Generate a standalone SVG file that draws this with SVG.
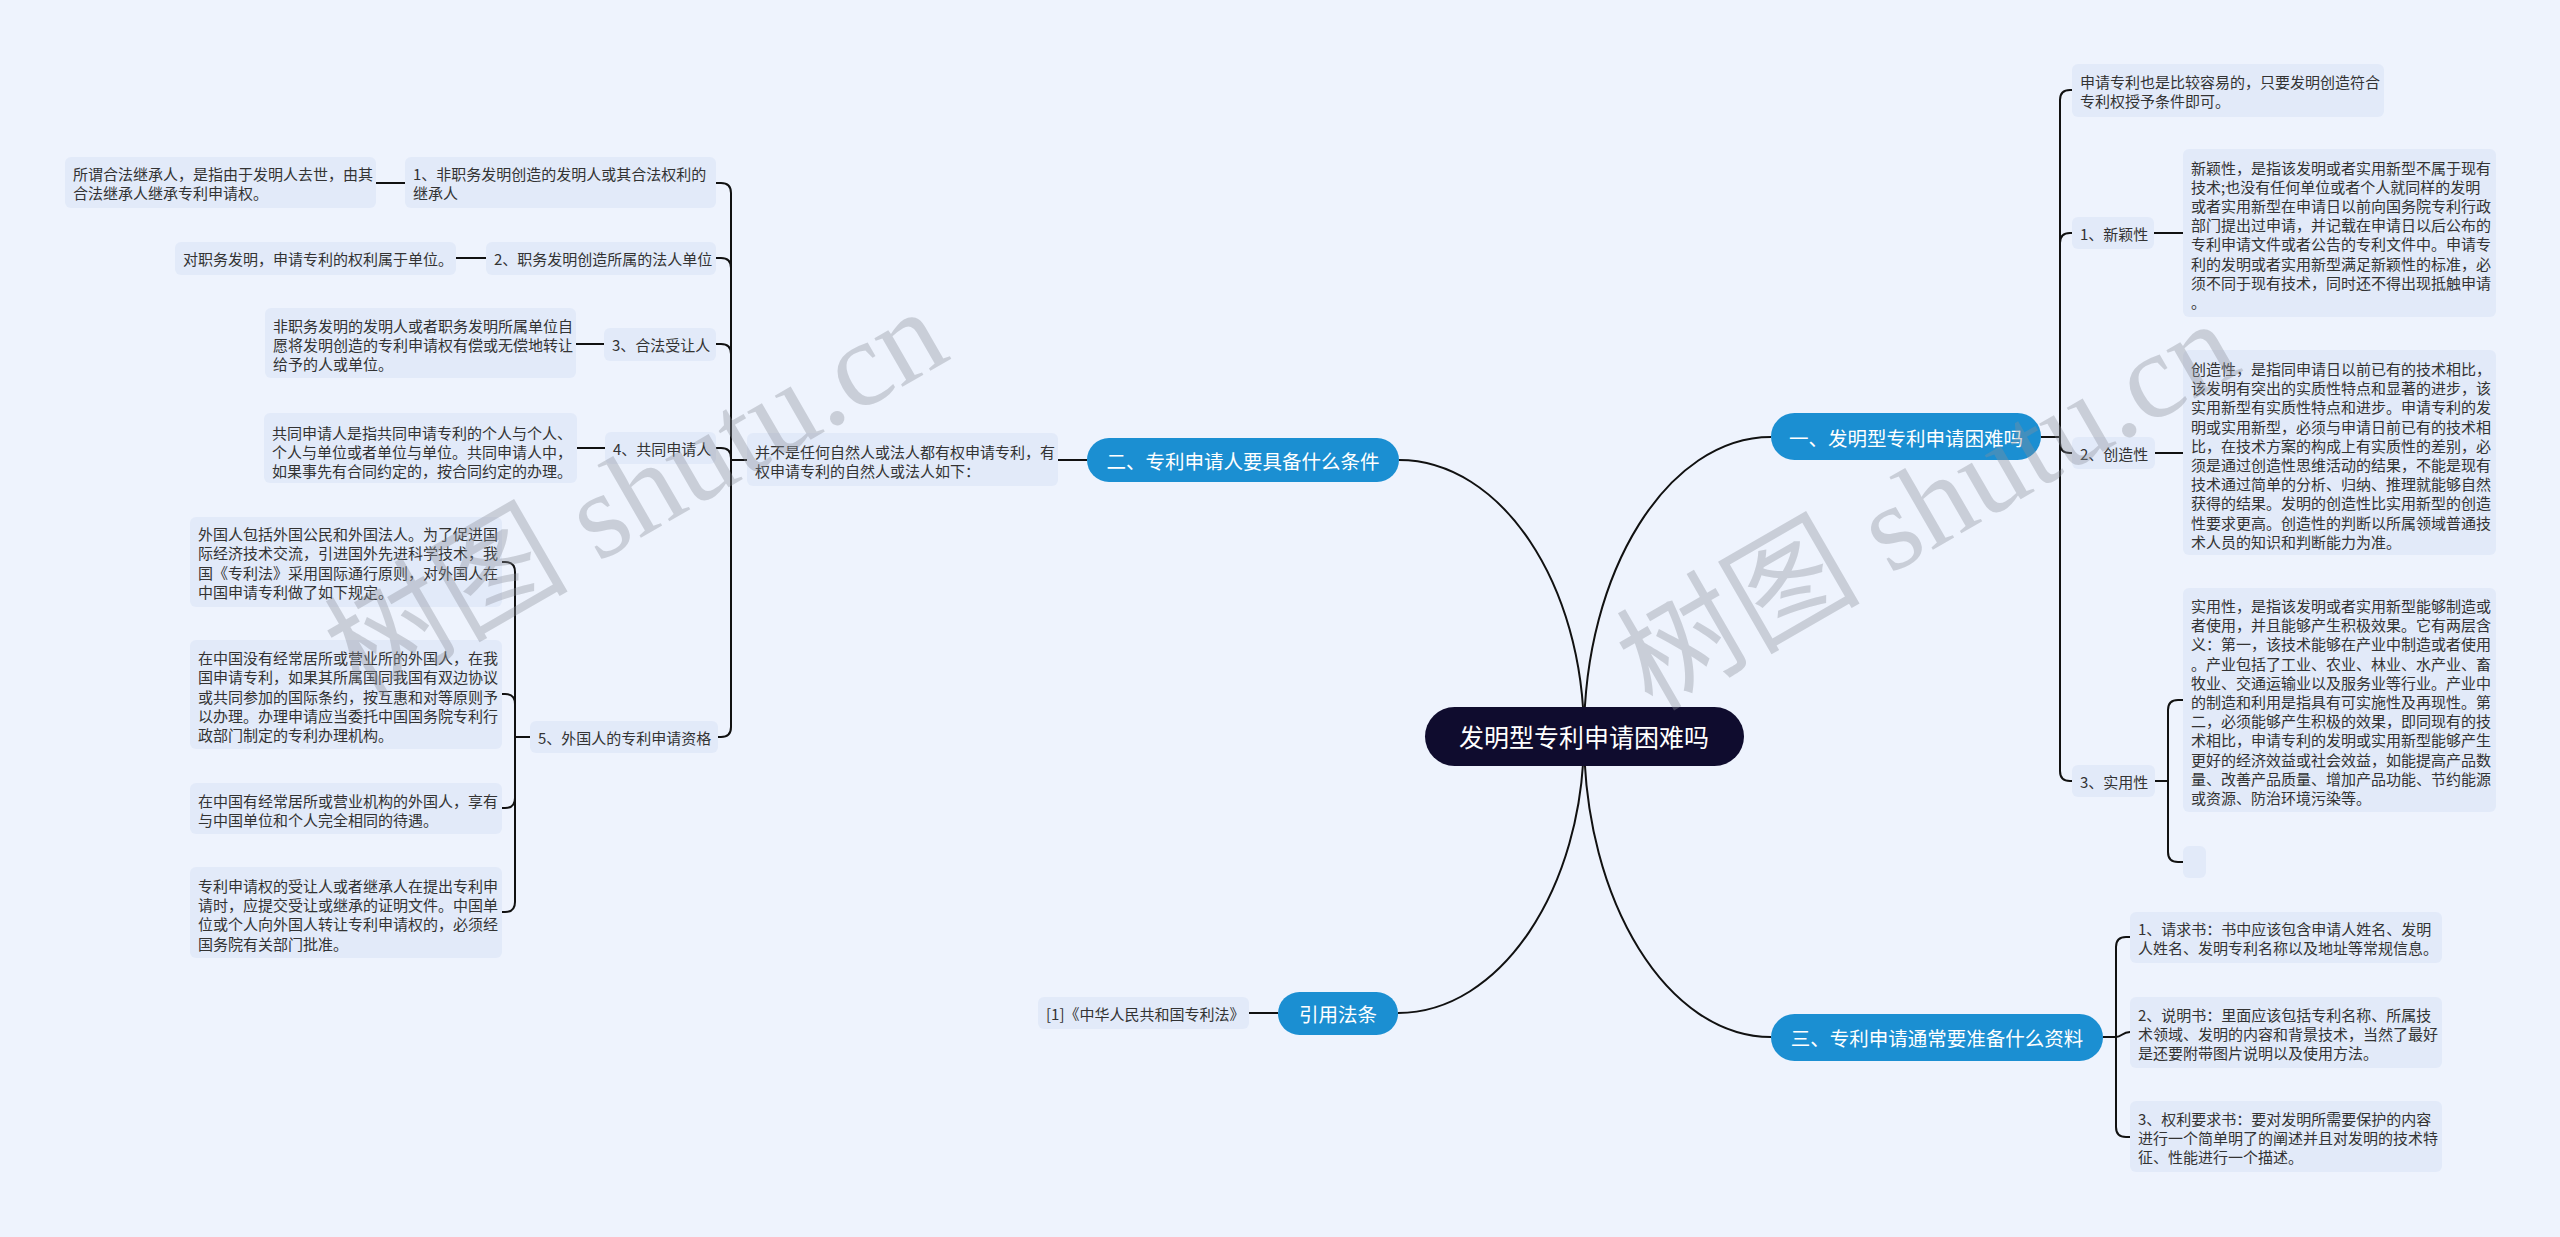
<svg xmlns="http://www.w3.org/2000/svg" width="2560" height="1237" viewBox="0 0 2560 1237">
<style>
.box{fill:#e2eaf9}
.t{font-family:"Noto Sans CJK SC","Noto Sans",sans-serif;font-size:15px;fill:#333;dominant-baseline:central}
.blue{fill:#1b8fd2}
.bt{font-family:"Noto Sans CJK SC","Noto Sans",sans-serif;font-size:19.5px;fill:#fff;dominant-baseline:central;text-anchor:middle}
.ct{font-family:"Noto Sans CJK SC","Noto Sans",sans-serif;font-size:25px;fill:#fff;dominant-baseline:central;text-anchor:middle}
.edge{fill:none;stroke:#111;stroke-width:2}
.wm{font-family:"Liberation Serif","Noto Sans CJK SC",serif;font-size:122px;fill:#8a8f99;opacity:0.36}
</style>
<rect width="2560" height="1237" fill="#eef3fd"/>
<g id="connectors">
<path class="edge" d="M1584,736 C1584,571 1668,437 1771,437"/>
<path class="edge" d="M1584,736 C1584,584 1501,460 1399,460"/>
<path class="edge" d="M1584,736 C1584,902 1668,1037 1771,1037"/>
<path class="edge" d="M1584,736 C1584,889 1500,1013 1398,1013"/>
<path class="edge" d="M2041,437 H2060 V100 Q2060,90 2070,90 H2072"/>
<path class="edge" d="M2041,437 H2060 V243 Q2060,233 2070,233 H2072"/>
<path class="edge" d="M2041,437 H2060 V443 Q2060,453 2070,453 H2072"/>
<path class="edge" d="M2041,437 H2060 V771 Q2060,781 2070,781 H2072"/>
<path class="edge" d="M2154,233 H2183"/>
<path class="edge" d="M2155,453 H2183"/>
<path class="edge" d="M2155,781 H2168 V710 Q2168,700 2178,700 H2183"/>
<path class="edge" d="M2155,781 H2168 V852 Q2168,862 2178,862 H2183"/>
<path class="edge" d="M2103,1037 H2116 V947 Q2116,937 2126,937 H2130"/>
<path class="edge" d="M2103,1037 H2116 C2122,1037 2122,1032 2130,1032"/>
<path class="edge" d="M2103,1037 H2116 V1127 Q2116,1137 2126,1137 H2130"/>
<path class="edge" d="M1087,460 H1058"/>
<path class="edge" d="M747,460 H731 V193 Q731,183 721,183 H716"/>
<path class="edge" d="M747,460 H731 V268 Q731,258 721,258 H716"/>
<path class="edge" d="M747,460 H731 V354 Q731,344 721,344 H716"/>
<path class="edge" d="M747,460 H731 V458 Q731,448 721,448 H716"/>
<path class="edge" d="M747,460 H731 V727 Q731,737 721,737 H718"/>
<path class="edge" d="M405,183 H376"/>
<path class="edge" d="M486,258 H456"/>
<path class="edge" d="M604,344 H576"/>
<path class="edge" d="M605,448 H577"/>
<path class="edge" d="M530,737 H515 V572 Q515,562 505,562 H502"/>
<path class="edge" d="M530,737 H515 V704 Q515,694 505,694 H502"/>
<path class="edge" d="M530,737 H515 V798 Q515,808 505,808 H502"/>
<path class="edge" d="M530,737 H515 V902 Q515,912 505,912 H502"/>
<path class="edge" d="M1278,1013 H1249"/>
</g>
<g id="center">
<rect x="1425" y="707" width="319" height="59" rx="29.5" fill="#0f0c2e"/>
<text class="ct" x="1584" y="736">发明型专利申请困难吗</text>
</g>
<g id="b1">
<rect class="blue" x="1771" y="413" width="270" height="47" rx="23.5"/>
<text class="bt" x="1906" y="437">一、发明型专利申请困难吗</text>
</g>
<g id="b1-0">
<rect class="box" x="2072" y="64" width="312" height="53" rx="6"/>
<text class="t" x="2080"><tspan x="2080" y="81">申请专利也是比较容易的，只要发明创造符合</tspan><tspan x="2080" y="100">专利权授予条件即可。</tspan></text>
</g>
<g id="b1-1">
<rect class="box" x="2072" y="217" width="82" height="32" rx="6"/>
<text class="t" x="2080" y="233">1、新颖性</text>
</g>
<g id="b1-1-0">
<rect class="box" x="2183" y="149" width="313" height="168" rx="6"/>
<text class="t"><tspan x="2191" y="167">新颖性，是指该发明或者实用新型不属于现有</tspan><tspan x="2191" y="186">技术;也没有任何单位或者个人就同样的发明</tspan><tspan x="2191" y="205">或者实用新型在申请日以前向国务院专利行政</tspan><tspan x="2191" y="224">部门提出过申请，并记载在申请日以后公布的</tspan><tspan x="2191" y="243">专利申请文件或者公告的专利文件中。申请专</tspan><tspan x="2191" y="263">利的发明或者实用新型满足新颖性的标准，必</tspan><tspan x="2191" y="282">须不同于现有技术，同时还不得出现抵触申请</tspan><tspan x="2191" y="301">。</tspan></text>
</g>
<g id="b1-2">
<rect class="box" x="2072" y="437" width="83" height="32" rx="6"/>
<text class="t" x="2080" y="453">2、创造性</text>
</g>
<g id="b1-2-0">
<rect class="box" x="2183" y="350" width="313" height="205" rx="6"/>
<text class="t"><tspan x="2191" y="368">创造性，是指同申请日以前已有的技术相比，</tspan><tspan x="2191" y="387">该发明有突出的实质性特点和显著的进步，该</tspan><tspan x="2191" y="406">实用新型有实质性特点和进步。申请专利的发</tspan><tspan x="2191" y="426">明或实用新型，必须与申请日前已有的技术相</tspan><tspan x="2191" y="445">比，在技术方案的构成上有实质性的差别，必</tspan><tspan x="2191" y="464">须是通过创造性思维活动的结果，不能是现有</tspan><tspan x="2191" y="483">技术通过简单的分析、归纳、推理就能够自然</tspan><tspan x="2191" y="502">获得的结果。发明的创造性比实用新型的创造</tspan><tspan x="2191" y="522">性要求更高。创造性的判断以所属领域普通技</tspan><tspan x="2191" y="541">术人员的知识和判断能力为准。</tspan></text>
</g>
<g id="b1-3">
<rect class="box" x="2072" y="765" width="83" height="32" rx="6"/>
<text class="t" x="2080" y="781">3、实用性</text>
</g>
<g id="b1-3-0">
<rect class="box" x="2183" y="588" width="313" height="224" rx="6"/>
<text class="t"><tspan x="2191" y="605">实用性，是指该发明或者实用新型能够制造或</tspan><tspan x="2191" y="624">者使用，并且能够产生积极效果。它有两层含</tspan><tspan x="2191" y="643">义：第一，该技术能够在产业中制造或者使用</tspan><tspan x="2191" y="663">。产业包括了工业、农业、林业、水产业、畜</tspan><tspan x="2191" y="682">牧业、交通运输业以及服务业等行业。产业中</tspan><tspan x="2191" y="701">的制造和利用是指具有可实施性及再现性。第</tspan><tspan x="2191" y="720">二，必须能够产生积极的效果，即同现有的技</tspan><tspan x="2191" y="739">术相比，申请专利的发明或实用新型能够产生</tspan><tspan x="2191" y="759">更好的经济效益或社会效益，如能提高产品数</tspan><tspan x="2191" y="778">量、改善产品质量、增加产品功能、节约能源</tspan><tspan x="2191" y="797">或资源、防治环境污染等。</tspan></text>
</g>
<g id="b1-3-1">
<rect class="box" x="2183" y="846" width="23" height="32" rx="6"/>
</g>
<g id="b3">
<rect class="blue" x="1771" y="1014" width="332" height="47" rx="23.5"/>
<text class="bt" x="1937" y="1037">三、专利申请通常要准备什么资料</text>
</g>
<g id="b3-1">
<rect class="box" x="2130" y="912" width="312" height="51" rx="6"/>
<text class="t"><tspan x="2138" y="928">1、请求书：书中应该包含申请人姓名、发明</tspan><tspan x="2138" y="947">人姓名、发明专利名称以及地址等常规信息。</tspan></text>
</g>
<g id="b3-2">
<rect class="box" x="2130" y="997" width="312" height="71" rx="6"/>
<text class="t"><tspan x="2138" y="1014">2、说明书：里面应该包括专利名称、所属技</tspan><tspan x="2138" y="1033">术领域、发明的内容和背景技术，当然了最好</tspan><tspan x="2138" y="1052">是还要附带图片说明以及使用方法。</tspan></text>
</g>
<g id="b3-3">
<rect class="box" x="2130" y="1101" width="312" height="71" rx="6"/>
<text class="t"><tspan x="2138" y="1118">3、权利要求书：要对发明所需要保护的内容</tspan><tspan x="2138" y="1137">进行一个简单明了的阐述并且对发明的技术特</tspan><tspan x="2138" y="1156">征、性能进行一个描述。</tspan></text>
</g>
<g id="b2">
<rect class="blue" x="1087" y="438" width="312" height="44" rx="22"/>
<text class="bt" x="1243" y="460">二、专利申请人要具备什么条件</text>
</g>
<g id="b2-0">
<rect class="box" x="747" y="433" width="311" height="53" rx="6"/>
<text class="t"><tspan x="755" y="451">并不是任何自然人或法人都有权申请专利，有</tspan><tspan x="755" y="470">权申请专利的自然人或法人如下：</tspan></text>
</g>
<g id="b2-1">
<rect class="box" x="405" y="157" width="311" height="51" rx="6"/>
<text class="t"><tspan x="413" y="173">1、非职务发明创造的发明人或其合法权利的</tspan><tspan x="413" y="192">继承人</tspan></text>
</g>
<g id="b2-1-0">
<rect class="box" x="65" y="157" width="311" height="51" rx="6"/>
<text class="t"><tspan x="73" y="173">所谓合法继承人，是指由于发明人去世，由其</tspan><tspan x="73" y="192">合法继承人继承专利申请权。</tspan></text>
</g>
<g id="b2-2">
<rect class="box" x="486" y="242" width="230" height="33" rx="6"/>
<text class="t" x="494" y="258">2、职务发明创造所属的法人单位</text>
</g>
<g id="b2-2-0">
<rect class="box" x="175" y="242" width="281" height="33" rx="6"/>
<text class="t" x="183" y="258">对职务发明，申请专利的权利属于单位。</text>
</g>
<g id="b2-3">
<rect class="box" x="604" y="328" width="112" height="33" rx="6"/>
<text class="t" x="612" y="344">3、合法受让人</text>
</g>
<g id="b2-3-0">
<rect class="box" x="265" y="308" width="311" height="70" rx="6"/>
<text class="t"><tspan x="273" y="325">非职务发明的发明人或者职务发明所属单位自</tspan><tspan x="273" y="344">愿将发明创造的专利申请权有偿或无偿地转让</tspan><tspan x="273" y="363">给予的人或单位。</tspan></text>
</g>
<g id="b2-4">
<rect class="box" x="605" y="432" width="111" height="32" rx="6"/>
<text class="t" x="613" y="448">4、共同申请人</text>
</g>
<g id="b2-4-0">
<rect class="box" x="264" y="413" width="313" height="70" rx="6"/>
<text class="t"><tspan x="272" y="432">共同申请人是指共同申请专利的个人与个人、</tspan><tspan x="272" y="451">个人与单位或者单位与单位。共同申请人中，</tspan><tspan x="272" y="470">如果事先有合同约定的，按合同约定的办理。</tspan></text>
</g>
<g id="b2-5">
<rect class="box" x="530" y="721" width="188" height="32" rx="6"/>
<text class="t" x="538" y="737">5、外国人的专利申请资格</text>
</g>
<g id="b2-5-1">
<rect class="box" x="190" y="517" width="312" height="90" rx="6"/>
<text class="t"><tspan x="198" y="533">外国人包括外国公民和外国法人。为了促进国</tspan><tspan x="198" y="552">际经济技术交流，引进国外先进科学技术，我</tspan><tspan x="198" y="572">国《专利法》采用国际通行原则，对外国人在</tspan><tspan x="198" y="591">中国申请专利做了如下规定。</tspan></text>
</g>
<g id="b2-5-2">
<rect class="box" x="190" y="640" width="312" height="109" rx="6"/>
<text class="t"><tspan x="198" y="657">在中国没有经常居所或营业所的外国人，在我</tspan><tspan x="198" y="676">国申请专利，如果其所属国同我国有双边协议</tspan><tspan x="198" y="696">或共同参加的国际条约，按互惠和对等原则予</tspan><tspan x="198" y="715">以办理。办理申请应当委托中国国务院专利行</tspan><tspan x="198" y="734">政部门制定的专利办理机构。</tspan></text>
</g>
<g id="b2-5-3">
<rect class="box" x="190" y="783" width="312" height="51" rx="6"/>
<text class="t"><tspan x="198" y="800">在中国有经常居所或营业机构的外国人，享有</tspan><tspan x="198" y="819">与中国单位和个人完全相同的待遇。</tspan></text>
</g>
<g id="b2-5-4">
<rect class="box" x="190" y="867" width="312" height="91" rx="6"/>
<text class="t"><tspan x="198" y="885">专利申请权的受让人或者继承人在提出专利申</tspan><tspan x="198" y="904">请时，应提交受让或继承的证明文件。中国单</tspan><tspan x="198" y="923">位或个人向外国人转让专利申请权的，必须经</tspan><tspan x="198" y="943">国务院有关部门批准。</tspan></text>
</g>
<g id="b4">
<rect class="blue" x="1278" y="992" width="120" height="43" rx="21.5"/>
<text class="bt" x="1338" y="1013">引用法条</text>
</g>
<g id="b4-0">
<rect class="box" x="1038" y="997" width="211" height="32" rx="6"/>
<text class="t" x="1046" y="1013">[1]《中华人民共和国专利法》</text>
</g>
<g id="watermark">
<text class="wm" x="360" y="700" transform="rotate(-30 360 700)">树图 shutu.cn</text>
<text class="wm" x="1652" y="712" transform="rotate(-30 1652 712)">树图 shutu.cn</text>
</g>
</svg>
